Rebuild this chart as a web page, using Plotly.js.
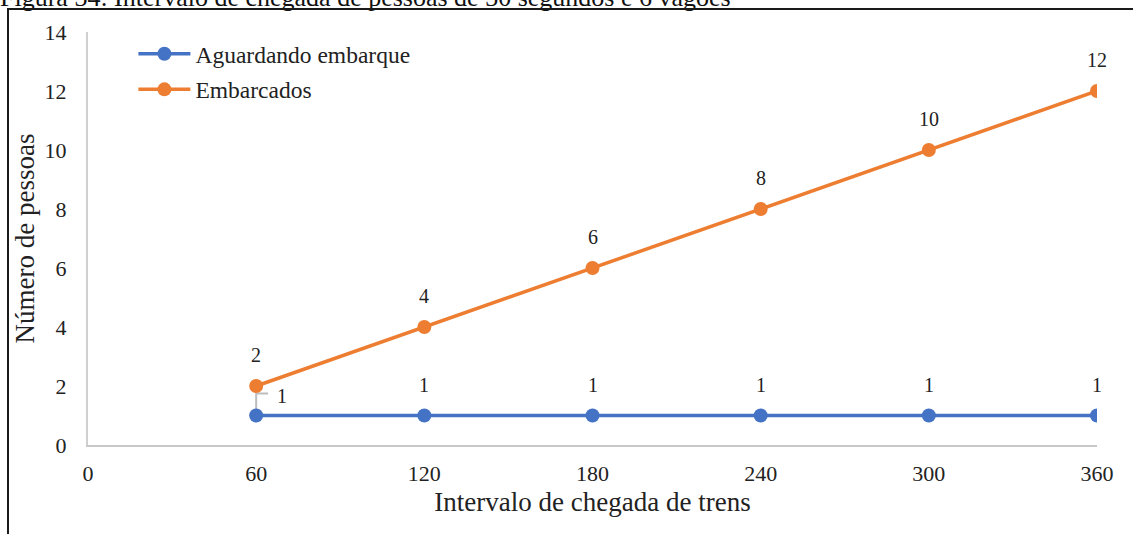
<!DOCTYPE html>
<html><head><meta charset="utf-8">
<script src="https://cdn.plot.ly/plotly-3.0.1.min.js"></script>
<style>
html,body{margin:0;padding:0;background:#fff;overflow:hidden;}
#wrap{position:relative;width:1133px;height:534px;overflow:hidden;}
#chart{position:absolute;left:0;top:0;width:1133px;height:534px;}
#frame{position:absolute;left:7px;top:8px;width:1200px;height:600px;border-left:2px solid #1a1a1a;border-top:2px solid #1a1a1a;pointer-events:none;}
#cap{position:absolute;left:0px;top:-17px;font-family:"Liberation Serif","Times New Roman",serif;font-size:26px;color:#111;white-space:nowrap;}
</style></head>
<body><div id="wrap"><div id="cap">Figura 34: Intervalo de chegada de pessoas de 30 segundos e 6 vagões</div><div id="chart"></div><div id="frame"></div></div>
<script>
const intervals = [60, 120, 180, 240, 300, 360];
const aguardando = [1, 1, 1, 1, 1, 1];
const embarcados = [2, 4, 6, 8, 10, 12];
const seriesNames = ["Aguardando embarque", "Embarcados"];
const xTicks = [0, 60, 120, 180, 240, 300, 360];
const yTicks = [0, 2, 4, 6, 8, 10, 12, 14];

const font = "Liberation Serif";
const txt = "#222";
const blue = "#4472C4", orange = "#ED7D31";

const traces = [
  {x: intervals, y: aguardando, name: seriesNames[0], mode: "lines+markers", legendgroup: "a",
   line: {color: blue, width: 3.5}, marker: {color: blue, size: 14}},
  {x: intervals, y: embarcados, name: seriesNames[1], mode: "lines+markers", legendgroup: "b",
   line: {color: orange, width: 3.5}, marker: {color: orange, size: 14}}
];

const labelFont = {family: font, size: 20, color: txt};
const annotations = [];
embarcados.forEach((v, i) => annotations.push({x: intervals[i], y: v, text: String(v), showarrow: false,
  yshift: 31, font: labelFont}));
aguardando.forEach((v, i) => {
  if (i === 0) {
    annotations.push({x: intervals[i], y: v, text: String(v), showarrow: false,
      xshift: 26, yshift: 20, font: labelFont});
  } else {
    annotations.push({x: intervals[i], y: v, text: String(v), showarrow: false,
      yshift: 31, font: labelFont});
  }
});

const layout = {
  width: 1133, height: 534,
  margin: {l: 88, r: 36, t: 32, b: 89},
  paper_bgcolor: "rgba(0,0,0,0)", plot_bgcolor: "rgba(0,0,0,0)",
  showlegend: true,
  legend: {x: 0.045, y: 1.0, xanchor: "left", yanchor: "top", bgcolor: "rgba(0,0,0,0)",
    font: {family: font, size: 23.5, color: txt}, tracegroupgap: 2, itemwidth: 52},
  xaxis: {range: [0, 360], tickvals: xTicks, ticktext: xTicks.map(String), showgrid: false, zeroline: false,
    showline: true, linecolor: "#c8c8c8", linewidth: 2, ticks: "outside", ticklen: 8, tickcolor: "rgba(0,0,0,0)",
    tickfont: {family: font, size: 22, color: txt},
    title: {text: "Intervalo de chegada de trens", font: {family: font, size: 27, color: txt}, standoff: 7},
    fixedrange: true},
  yaxis: {range: [0, 14], tickvals: yTicks, ticktext: yTicks.map(String), showgrid: false, zeroline: false,
    showline: true, linecolor: "#d0d0d0", linewidth: 2, ticks: "outside", ticklen: 15, tickcolor: "rgba(0,0,0,0)",
    tickfont: {family: font, size: 22, color: txt},
    title: {text: "Número de pessoas", font: {family: font, size: 27, color: txt}, standoff: 2},
    fixedrange: true},
  annotations: annotations,
  shapes: [{type: "path", layer: "below", xref: "x", yref: "y", xsizemode: "pixel", ysizemode: "pixel",
    xanchor: intervals[0], yanchor: aguardando[0], path: "M0,0 V22 H12",
    line: {color: "#bdbdbd", width: 2}}]
};

Plotly.newPlot("chart", traces, layout, {displayModeBar: false, staticPlot: true});
</script></body></html>
